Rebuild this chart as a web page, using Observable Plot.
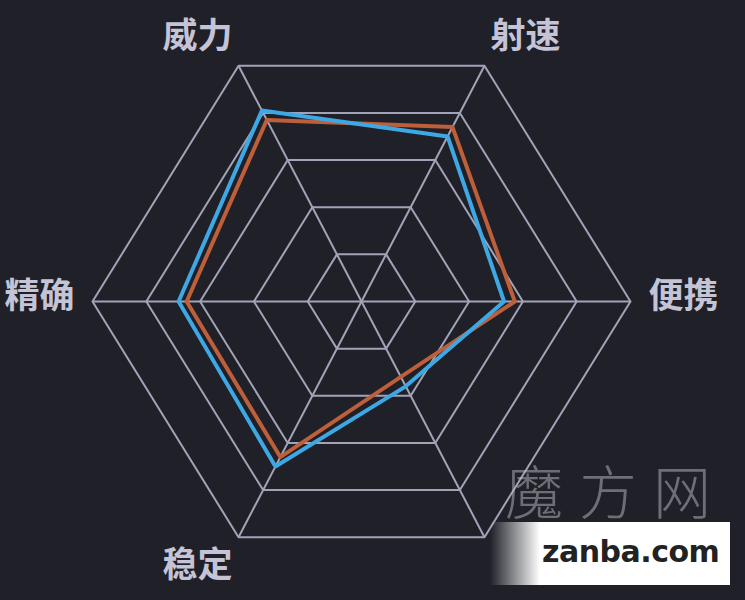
<!DOCTYPE html>
<html>
<head>
<meta charset="utf-8">
<script src="https://cdn.jsdelivr.net/npm/d3@7"></script>
<script src="https://cdn.jsdelivr.net/npm/@observablehq/plot@0.6"></script>
<style>
  html, body { margin: 0; padding: 0; background: #1f2028; }
  #wrap { position: relative; width: 745px; height: 600px; overflow: hidden; }
  #wm-cn { position: absolute; left: 505px; top: 460px; font-family: "Noto Sans CJK SC", sans-serif; font-weight: 300; font-size: 58px; color: rgba(190,190,195,0.5); letter-spacing: 16px; line-height: 58px; height: 58px; }
  #wm-box { position: absolute; left: 490px; top: 522px; width: 240px; height: 63px; background: linear-gradient(to right, rgba(255,255,255,0) 0px, #fff 50px); }
  #wm-text { position: absolute; left: 542px; top: 537px; font-family: "DejaVu Sans", sans-serif; font-weight: bold; font-size: 30px; color: #222; line-height: 1; letter-spacing: -0.5px; }
</style>
</head>
<body>
<div id="wrap"></div>
<script>
// ---- data ----
const axes = ["威力", "射速", "便携", "", "稳定", "精确"];
const seriesNames = ["A", "B"];
const valuesA = [77, 74, 57, 32, 66, 65];   // orange
const valuesB = [81, 70, 53, 36, 70, 68];   // blue
const ringLevels = [20, 40, 60, 80, 100];
const maxValue = 100;

// ---- layout ----
const W = 745, H = 600;
const cx = 361, cy = 301;          // centre in px
const rx = 269, ry = 265;          // px per unit radius
const tilt = 62.8;                 // spoke tilt of upper/lower axes (deg)
const anglesDeg = [-180 + tilt, -tilt, 0, tilt, 180 - tilt, 180];
const ang = anglesDeg.map(d => d * Math.PI / 180);

const polar = (i, r) => ({x: r * Math.cos(ang[i]), y: r * Math.sin(ang[i])});

const rings = ringLevels.flatMap(level =>
  axes.map((_, i) => ({level, ...polar(i, level / maxValue)})));
const spokes = axes.map((_, i) => ({...polar(i, 1)}));
const series = [
  ...valuesA.map((v, i) => ({series: seriesNames[0], axis: axes[i], ...polar(i, v / maxValue)})),
  ...valuesB.map((v, i) => ({series: seriesNames[1], axis: axes[i], ...polar(i, v / maxValue)}))
];
const labels = axes.map((name, i) => {
  const p = polar(i, 1);
  const c = Math.cos(ang[i]), s = Math.sin(ang[i]);
  let dx, dy;
  if (Math.abs(s) < 0.01) { dx = Math.sign(c) * 53; dy = -5; }
  else { dx = Math.sign(c) * 41; dy = Math.sign(s) * 29; }
  return {name, x: p.x + dx / rx, y: p.y + dy / ry};
});

const chart = Plot.plot({
  width: W,
  height: H,
  margin: 0,
  style: {background: "#1f2028"},
  x: {domain: [-cx / rx, (W - cx) / rx], range: [0, W], axis: null},
  y: {domain: [-cy / ry, (H - cy) / ry], range: [0, H], axis: null},
  color: {domain: seriesNames, range: ["#bd5f3a", "#3ea8e4"]},
  marks: [
    Plot.line(rings, {x: "x", y: "y", z: "level", curve: "linear-closed", stroke: "#a3a3b8", strokeWidth: 2}),
    Plot.link(spokes, {x1: 0, y1: 0, x2: "x", y2: "y", stroke: "#a3a3b8", strokeWidth: 2}),
    Plot.line(series, {x: "x", y: "y", z: "series", stroke: "series", curve: "linear-closed", strokeWidth: 4}),
    Plot.text(labels, {x: "x", y: "y", text: "name", fill: "#c4c4d6", fontSize: 35, fontWeight: "bold",
      fontFamily: "'Noto Sans CJK SC', sans-serif", textAnchor: "middle", lineAnchor: "middle"})
  ]
});
const wrap = document.getElementById("wrap");
wrap.appendChild(chart);
wrap.insertAdjacentHTML("beforeend",
  '<div id="wm-cn">魔方网</div><div id="wm-box"></div><div id="wm-text">zanba.com</div>');
</script>
</body>
</html>
